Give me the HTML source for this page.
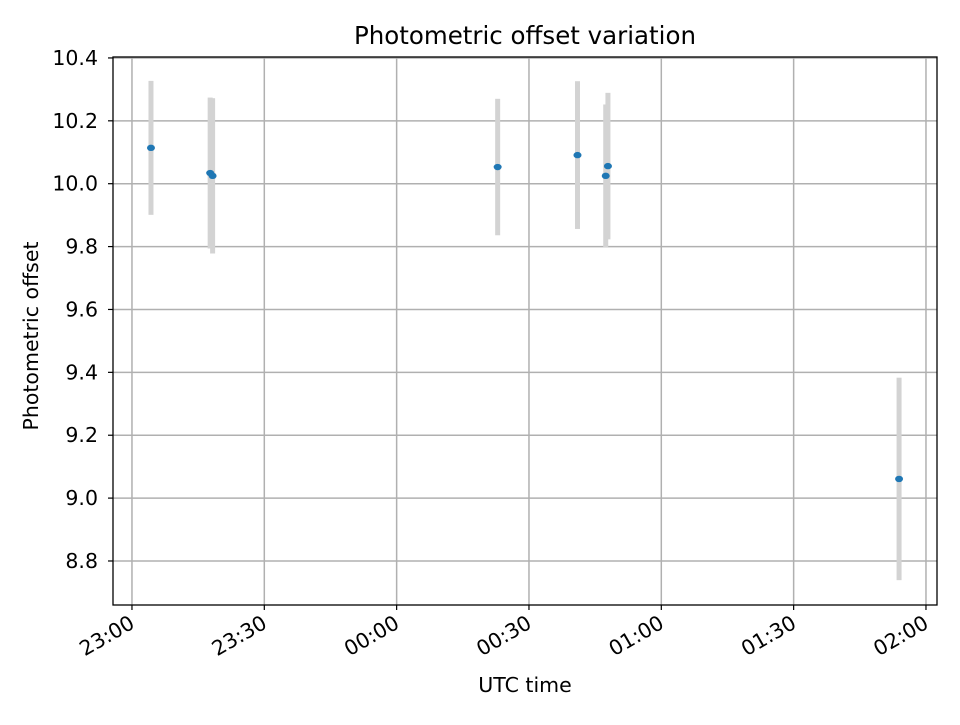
<!DOCTYPE html>
<html><head><meta charset="utf-8"><style>
body{margin:0;background:#fff;}
svg text{font-family:"DejaVu Sans","Liberation Sans",sans-serif;fill:#000;}
</style></head><body>
<svg id="chart" width="960" height="720" xmlns="http://www.w3.org/2000/svg">
<rect width="960" height="720" fill="#fff"/>
<g id="grid"></g><g id="bars"></g><g id="pts"></g><g id="axes"></g>
</svg>
<script>
const timesMin = [4.31, 17.73, 18.28, 82.9, 101.0, 107.4, 107.9, 173.9];
const offsets = [10.114, 10.034, 10.025, 10.053, 10.091, 10.025, 10.056, 9.061];
const errors = [0.213, 0.24, 0.247, 0.217, 0.235, 0.227, 0.233, 0.322];
const xTickMin = [0, 30, 60, 90, 120, 150, 180];
const xTickLabels = ["23:00","23:30","00:00","00:30","01:00","01:30","02:00"];
const yTicks = [8.8, 9.0, 9.2, 9.4, 9.6, 9.8, 10.0, 10.2, 10.4];
const L=113,R=937,T=57,B=605;
const xMin=-4.3,xMax=182.5,yMin=8.66,yMax=10.403;
const X=m=>L+(m-xMin)/(xMax-xMin)*(R-L);
const Y=v=>B-(v-yMin)/(yMax-yMin)*(B-T);
const NS="http://www.w3.org/2000/svg";
function mk(p,tag,a){const e=document.createElementNS(NS,tag);for(const k in a)e.setAttribute(k,a[k]);p.appendChild(e);return e;}
const grid=document.getElementById('grid'),bars=document.getElementById('bars'),pts=document.getElementById('pts'),axes=document.getElementById('axes');
xTickMin.forEach((m,i)=>{
 const x=X(m);
 const g=mk(grid,'line',{x1:x,x2:x,y1:T,y2:B,stroke:'#b0b0b0','stroke-width':1.5});
 
 
 mk(axes,'line',{x1:x,x2:x,y1:B,y2:B+5,stroke:'#000','stroke-width':1.2});
 const ax=x+4, ay=B+22;
 const t=mk(axes,'text',{x:ax,y:ay,'font-size':20.5,'text-anchor':'end',transform:`rotate(-30 ${ax} ${ay})`});
 t.textContent=xTickLabels[i];
 
 
});
yTicks.forEach(v=>{
 const y=Y(v);
 const g=mk(grid,'line',{x1:L,x2:R,y1:y,y2:y,stroke:'#b0b0b0','stroke-width':1.5});
 
 
 mk(axes,'line',{x1:L-5,x2:L,y1:y,y2:y,stroke:'#000','stroke-width':1.2});
 const t=mk(axes,'text',{x:L-15,y:y+7,'font-size':20.5,'text-anchor':'end'});
 t.textContent=v.toFixed(1);
 
 
});
timesMin.forEach((m,i)=>{
 const x=X(m);
 const b=mk(bars,'rect',{x:x-2.5,y:Y(offsets[i]+errors[i]),width:5,height:Y(offsets[i]-errors[i])-Y(offsets[i]+errors[i]),fill:'#d3d3d3'});
 
 
});
timesMin.forEach((m,i)=>{
 const p=mk(pts,'ellipse',{cx:X(m),cy:Y(offsets[i]),rx:4,ry:3.2,fill:'#1f77b4'});
 
 
});
const fr=mk(axes,'rect',{x:L,y:T,width:R-L,height:B-T,fill:'none',stroke:'#000','stroke-width':1.3});


const ti=mk(axes,'text',{x:(L+R)/2,y:44,'font-size':24.5,'text-anchor':'middle'});
ti.textContent='Photometric offset variation';


const xl=mk(axes,'text',{x:(L+R)/2,y:692,'font-size':20.5,'text-anchor':'middle'});
xl.textContent='UTC time';


const yl=mk(axes,'text',{x:38,y:(T+B)/2+5,'font-size':20.5,'text-anchor':'middle',transform:`rotate(-90 38 ${(T+B)/2+5})`});
yl.textContent='Photometric offset';


</script>
</body></html>
